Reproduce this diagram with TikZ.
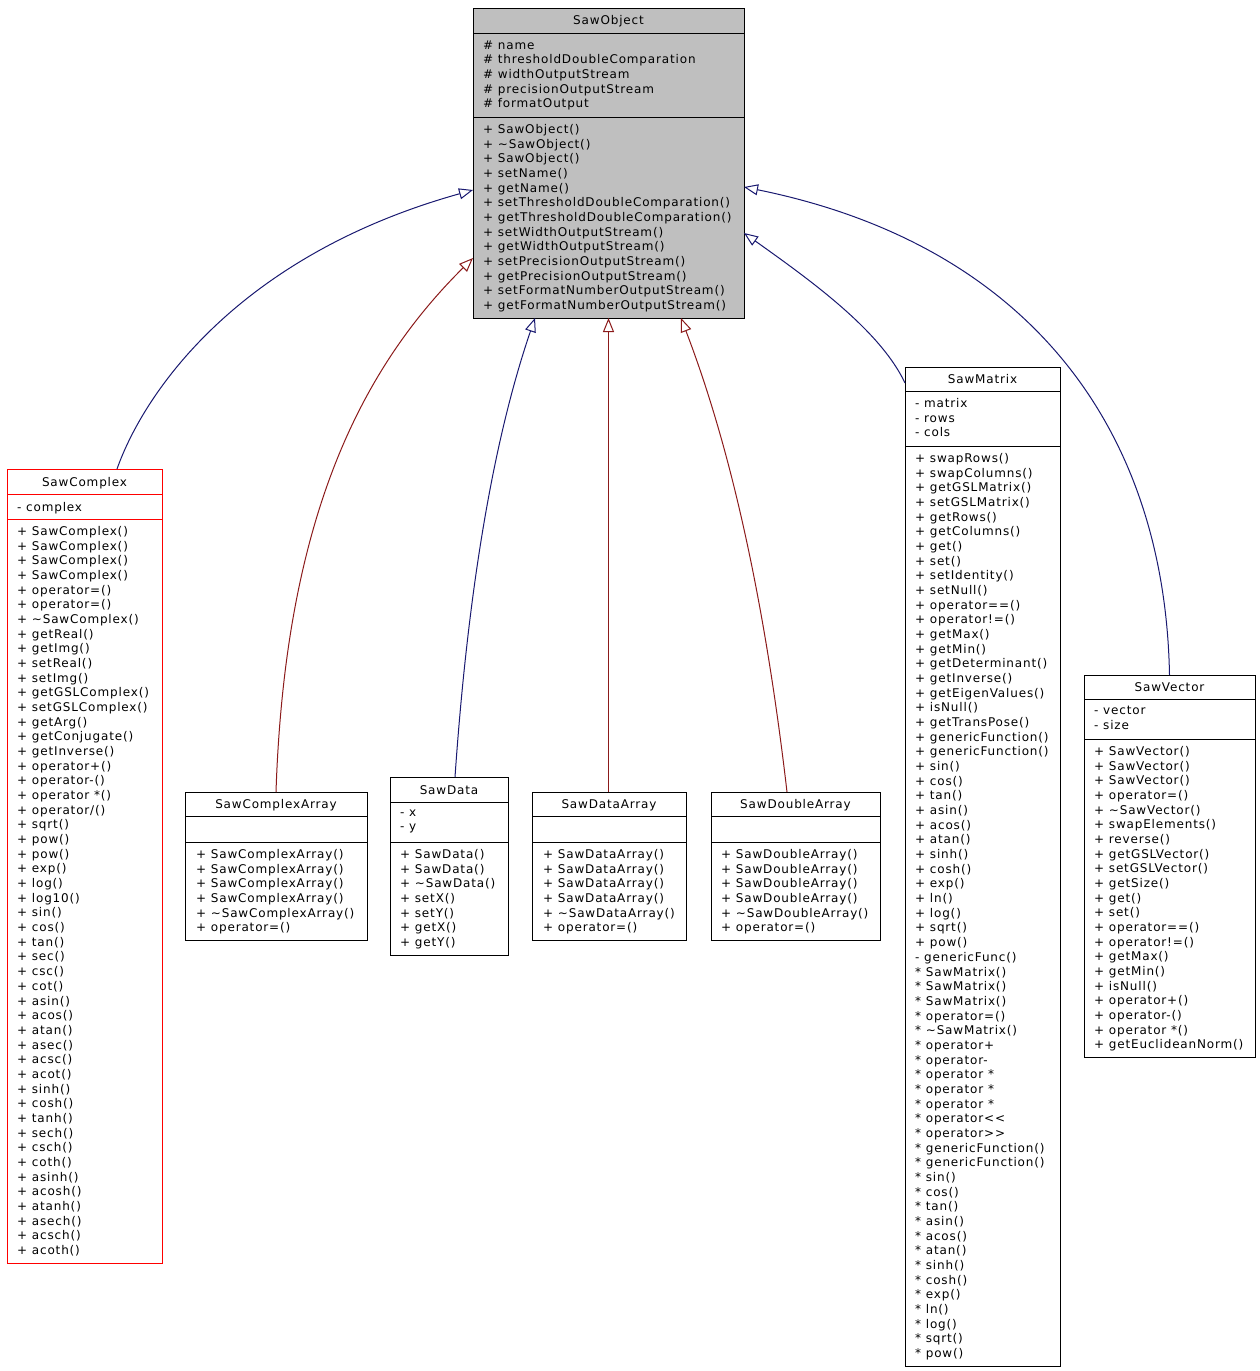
\documentclass[tikz,border=0pt]{standalone}
\usepackage{fontspec}
\usetikzlibrary{arrows.meta}
\newfontfamily\umlfont{DejaVu Sans}[LetterSpace=7]
\definecolor{pubblue}{RGB}{25,25,112}
\definecolor{protred}{RGB}{139,26,26}
\definecolor{objgray}{RGB}{191,191,191}
\newcommand{\tl}{\textasciitilde}
\begin{document}
\begin{tikzpicture}[x=1pt,y=-1pt,
  cls/.style={draw=black, line width=1pt, inner sep=0pt, outer sep=0pt, anchor=north west},
  redcls/.style={cls, draw=red},
  sepline/.style={line width=1pt},
  redsep/.style={line width=1pt, draw=red},
  txt/.style={inner sep=0pt, anchor=north west, yshift=9.269pt, align=left, font=\umlfont\fontsize{12}{14.67}\selectfont, execute at begin node=\strut},
  ttl/.style={inner sep=0pt, anchor=base, yshift=-1pt, font=\umlfont\fontsize{12}{14.67}\selectfont},
  inh/.style={line width=1pt, -{Triangle[open, length=14pt, width=11pt]}},
  pub/.style={inh, draw=pubblue},
  prot/.style={inh, draw=protred}
]
\useasboundingbox (0,0) rectangle (1259,1371);

% ---------- SawObject ----------
\node[cls, fill=objgray, minimum width=271pt, minimum height=310pt] (obj) at (473,8) {};
\draw[sepline] ([yshift=-25pt]obj.north west) -- ([yshift=-25pt]obj.north east);
\draw[sepline] ([yshift=-109pt]obj.north west) -- ([yshift=-109pt]obj.north east);
\node[ttl] (objt) at (608.5,23.5) {SawObject};
\node[txt] (obja) at (483,49.5) {\# name\\\# thresholdDoubleComparation\\\# widthOutputStream\\\# precisionOutputStream\\\# formatOutput};
\node[txt] (objm) at (483,133.5) {+ SawObject()\\+ \tl SawObject()\\+ SawObject()\\+ setName()\\+ getName()\\+ setThresholdDoubleComparation()\\+ getThresholdDoubleComparation()\\+ setWidthOutputStream()\\+ getWidthOutputStream()\\+ setPrecisionOutputStream()\\+ getPrecisionOutputStream()\\+ setFormatNumberOutputStream()\\+ getFormatNumberOutputStream()};

% ---------- SawComplex ----------
\node[redcls, minimum width=155pt, minimum height=794pt] (sc) at (7,469) {};
\draw[redsep] ([yshift=-25pt]sc.north west) -- ([yshift=-25pt]sc.north east);
\draw[redsep] ([yshift=-50pt]sc.north west) -- ([yshift=-50pt]sc.north east);
\node[ttl] (sct) at (84.5,485.5) {SawComplex};
\node[txt] (sca1) at (17,510.5) {- complex};
\node[txt] (scm) at (17,535.5) {+ SawComplex()\\+ SawComplex()\\+ SawComplex()\\+ SawComplex()\\+ operator=()\\+ operator=()\\+ \tl SawComplex()\\+ getReal()\\+ getImg()\\+ setReal()\\+ setImg()\\+ getGSLComplex()\\+ setGSLComplex()\\+ getArg()\\+ getConjugate()\\+ getInverse()\\+ operator+()\\+ operator-()\\+ operator *()\\+ operator/()\\+ sqrt()\\+ pow()\\+ pow()\\+ exp()\\+ log()\\+ log10()\\+ sin()\\+ cos()\\+ tan()\\+ sec()\\+ csc()\\+ cot()\\+ asin()\\+ acos()\\+ atan()\\+ asec()\\+ acsc()\\+ acot()\\+ sinh()\\+ cosh()\\+ tanh()\\+ sech()\\+ csch()\\+ coth()\\+ asinh()\\+ acosh()\\+ atanh()\\+ asech()\\+ acsch()\\+ acoth()};

% ---------- SawComplexArray ----------
\node[cls, minimum width=182pt, minimum height=148pt] (sca) at (185,792) {};
\draw[sepline] ([yshift=-24pt]sca.north west) -- ([yshift=-24pt]sca.north east);
\draw[sepline] ([yshift=-50pt]sca.north west) -- ([yshift=-50pt]sca.north east);
\node[ttl] (scat) at (276,807.5) {SawComplexArray};
\node[txt] (scam) at (196,858.5) {+ SawComplexArray()\\+ SawComplexArray()\\+ SawComplexArray()\\+ SawComplexArray()\\+ \tl SawComplexArray()\\+ operator=()};

% ---------- SawData ----------
\node[cls, minimum width=118pt, minimum height=178pt] (sd) at (390,777) {};
\draw[sepline] ([yshift=-25pt]sd.north west) -- ([yshift=-25pt]sd.north east);
\draw[sepline] ([yshift=-65pt]sd.north west) -- ([yshift=-65pt]sd.north east);
\node[ttl] (sdt) at (449,793.5) {SawData};
\node[txt] (sda1) at (400,818.5) {- x\\- y};
\node[txt] (sdm) at (400,858.5) {+ SawData()\\+ SawData()\\+ \tl SawData()\\+ setX()\\+ setY()\\+ getX()\\+ getY()};

% ---------- SawDataArray ----------
\node[cls, minimum width=154pt, minimum height=148pt] (sda) at (532,792) {};
\draw[sepline] ([yshift=-24pt]sda.north west) -- ([yshift=-24pt]sda.north east);
\draw[sepline] ([yshift=-50pt]sda.north west) -- ([yshift=-50pt]sda.north east);
\node[ttl] (sdat) at (609,807.5) {SawDataArray};
\node[txt] (sdam) at (543,858.5) {+ SawDataArray()\\+ SawDataArray()\\+ SawDataArray()\\+ SawDataArray()\\+ \tl SawDataArray()\\+ operator=()};

% ---------- SawDoubleArray ----------
\node[cls, minimum width=169pt, minimum height=148pt] (sdb) at (711,792) {};
\draw[sepline] ([yshift=-24pt]sdb.north west) -- ([yshift=-24pt]sdb.north east);
\draw[sepline] ([yshift=-50pt]sdb.north west) -- ([yshift=-50pt]sdb.north east);
\node[ttl] (sdbt) at (795.5,807.5) {SawDoubleArray};
\node[txt] (sdbm) at (721,858.5) {+ SawDoubleArray()\\+ SawDoubleArray()\\+ SawDoubleArray()\\+ SawDoubleArray()\\+ \tl SawDoubleArray()\\+ operator=()};

% ---------- SawMatrix ----------
\node[cls, minimum width=155pt, minimum height=999pt] (sm) at (905,367) {};
\draw[sepline] ([yshift=-24pt]sm.north west) -- ([yshift=-24pt]sm.north east);
\draw[sepline] ([yshift=-79pt]sm.north west) -- ([yshift=-79pt]sm.north east);
\node[ttl] (smt) at (982.5,382.5) {SawMatrix};
\node[txt] (sma1) at (915,407.5) {- matrix\\- rows\\- cols};
\node[txt] (smm) at (915,462.5) {+ swapRows()\\+ swapColumns()\\+ getGSLMatrix()\\+ setGSLMatrix()\\+ getRows()\\+ getColumns()\\+ get()\\+ set()\\+ setIdentity()\\+ setNull()\\+ operator==()\\+ operator!=()\\+ getMax()\\+ getMin()\\+ getDeterminant()\\+ getInverse()\\+ getEigenValues()\\+ isNull()\\+ getTransPose()\\+ genericFunction()\\+ genericFunction()\\+ sin()\\+ cos()\\+ tan()\\+ asin()\\+ acos()\\+ atan()\\+ sinh()\\+ cosh()\\+ exp()\\+ ln()\\+ log()\\+ sqrt()\\+ pow()\\- genericFunc()\\* SawMatrix()\\* SawMatrix()\\* SawMatrix()\\* operator=()\\* \tl SawMatrix()\\* operator+\\* operator-\\* operator *\\* operator *\\* operator *\\* operator<{}<\\* operator>{}>\\* genericFunction()\\* genericFunction()\\* sin()\\* cos()\\* tan()\\* asin()\\* acos()\\* atan()\\* sinh()\\* cosh()\\* exp()\\* ln()\\* log()\\* sqrt()\\* pow()};

% ---------- SawVector ----------
\node[cls, minimum width=171pt, minimum height=382pt] (sv) at (1084,675) {};
\draw[sepline] ([yshift=-24pt]sv.north west) -- ([yshift=-24pt]sv.north east);
\draw[sepline] ([yshift=-64pt]sv.north west) -- ([yshift=-64pt]sv.north east);
\node[ttl] (svt) at (1169.5,690.5) {SawVector};
\node[txt] (sva1) at (1094,715.5) {- vector\\- size};
\node[txt] (svm) at (1094,755.5) {+ SawVector()\\+ SawVector()\\+ SawVector()\\+ operator=()\\+ \tl SawVector()\\+ swapElements()\\+ reverse()\\+ getGSLVector()\\+ setGSLVector()\\+ getSize()\\+ get()\\+ set()\\+ operator==()\\+ operator!=()\\+ getMax()\\+ getMin()\\+ isNull()\\+ operator+()\\+ operator-()\\+ operator *()\\+ getEuclideanNorm()};

% ---------- inheritance connectors ----------
\draw[pub] ([xshift=32.5pt]sc.north) .. controls (145,390) and (240,255) .. ([yshift=-182pt]obj.north west);
\draw[prot] (sca.north) .. controls (285,520) and (360,370) .. ([yshift=-250pt]obj.north west);
\draw[pub] ([xshift=6pt]sd.north) .. controls (470,560) and (500,420) .. ([xshift=62pt]obj.south west);
\draw[prot] ([xshift=-0.5pt]sda.north) -- ([xshift=-0.5pt]sda.north |- obj.south);
\draw[prot] ([xshift=-8.5pt]sdb.north) .. controls (760,560) and (720,420) .. ([xshift=-63pt]obj.south east);
\draw[pub] ([yshift=-16pt]sm.north west) .. controls (880,330) and (810,280) .. ([yshift=-225pt]obj.north east);
\draw[pub] (sv.north) .. controls (1165,430) and (1030,245) .. ([yshift=-179pt]obj.north east);
\end{tikzpicture}
\end{document}
